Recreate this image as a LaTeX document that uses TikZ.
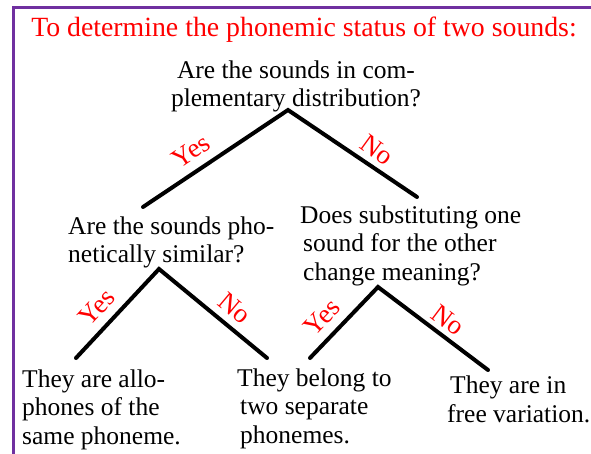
\documentclass[tikz,border=0pt]{standalone}
\usepackage{fontspec}
\setmainfont{Liberation Serif}
\definecolor{framepurple}{RGB}{112,48,160}
\begin{document}
\begin{tikzpicture}[x=1pt,y=-1pt,
  txt/.style={inner sep=0pt, font=\fontsize{25.5}{28.5}\selectfont, align=left, anchor=base west},
  ctxt/.style={txt, align=center, anchor=base},
  ttl/.style={inner sep=0pt, text=red, font=\fontsize{27.8}{30}\selectfont, anchor=base},
  lbl/.style={text=red, inner sep=0pt, font=\fontsize{27}{30}\selectfont},
  branch/.style={line width=4pt, line cap=round}]
\useasboundingbox (0,0) rectangle (591,454);
\fill[white] (0,0) rectangle (591,454);
\draw[framepurple, line width=3pt] (13,460) -- (13,8) -- (600,8);

\node[ttl] (title) at (304,37) {To determine the phonemic status of two sounds:};

% multi-line nodes: base anchor is the baseline of the last line
\node[ctxt] (root) at (296,107) {Are the sounds in com-\\plementary distribution?};
\node[txt] (qL) at (68,262.5) {Are the sounds pho-\\netically similar?};
\node[txt] (qR) at (300,280) {Does substituting one\\\hspace{3pt}sound for the other\\\hspace{3pt}change meaning?};

\node[txt] (leafA) at (22,444) {They are allo-\\phones of the\\same phoneme.};
\node[txt] (leafB) at (237,443) {They belong to\\\hspace{3pt}two separate\\\hspace{3pt}phonemes.};
\node[txt] (leafC) at (450,422) {They are in\\\hspace{-3pt}free variation.};

\coordinate (apex0) at (288,110);
\coordinate (end0L) at (143,207);
\coordinate (end0R) at (417,197);
\coordinate (apexL) at (159,269);
\coordinate (endLL) at (76,358);
\coordinate (endLR) at (267,358);
\coordinate (apexR) at (378,287);
\coordinate (endRL) at (310,358);
\coordinate (endRR) at (488,370);

\draw[branch] (end0L) -- (apex0) -- (end0R);
\draw[branch] (endLL) -- (apexL) -- (endLR);
\draw[branch] (endRL) -- (apexR) -- (endRR);

\node[lbl, rotate=34] (y0) at (191,151) {Yes};
\node[lbl, rotate=-36] (n0) at (377,150) {No};
\node[lbl, rotate=47] (yL) at (97,307) {Yes};
\node[lbl, rotate=-40] (nL) at (235,308) {No};
\node[lbl, rotate=46] (yR) at (322,317) {Yes};
\node[lbl, rotate=-37] (nR) at (448,320) {No};
\end{tikzpicture}
\end{document}
